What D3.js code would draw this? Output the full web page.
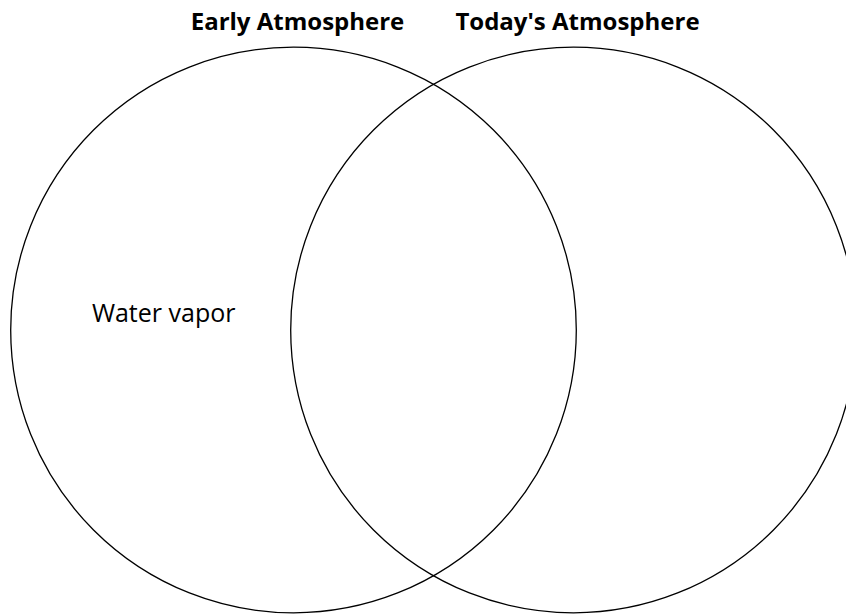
<!DOCTYPE html>
<html>
<head>
<meta charset="utf-8">
<script src="https://cdn.jsdelivr.net/npm/d3@7"></script>
<style>
  body { margin: 0; background: #fff; }
  text { font-family: "Open Sans", "Noto Sans", sans-serif; fill: #000; }
</style>
</head>
<body>
<div id="venn"></div>
<script>
// sets of the diagram (centre in data units, radius in same units)
const setNames = ["Early Atmosphere", "Today's Atmosphere"];
const setCentres = [0, 1];
const setRadius = 1.01;

// items written inside the circles
const itemLabels = ["Water vapor"];
const itemX = [-0.72];
const itemY = [0.03];

const width = 846, height = 616;

const svg = d3.select("#venn").append("svg")
    .attr("width", width)
    .attr("height", height);

// one unit = distance between circle centres
const x = d3.scaleLinear().domain([0, 1]).range([293.5, 573.5]);
const y = d3.scaleLinear().domain([0, 1]).range([330, 50]);
const unit = x(1) - x(0);

const sets = setNames.map((name, i) => ({name: name, cx: setCentres[i]}));

// circles
svg.selectAll(".set")
    .data(sets)
    .enter().append("circle")
    .attr("class", "set")
    .attr("cx", d => x(d.cx))
    .attr("cy", y(0))
    .attr("r", setRadius * unit)
    .attr("fill", "none")
    .attr("stroke", "#000")
    .attr("stroke-width", 1.3);

// set titles
svg.selectAll(".title")
    .data(sets)
    .enter().append("text")
    .attr("class", "title")
    .attr("x", d => x(d.cx) + 4)
    .attr("y", 30)
    .attr("text-anchor", "middle")
    .attr("font-size", 24)
    .attr("font-weight", "bold")
    .text(d => d.name);

// items
svg.selectAll(".item")
    .data(itemLabels)
    .enter().append("text")
    .attr("class", "item")
    .attr("x", (d, i) => x(itemX[i]))
    .attr("y", (d, i) => y(itemY[i]))
    .attr("font-size", 25)
    .text(d => d);
</script>
</body>
</html>
